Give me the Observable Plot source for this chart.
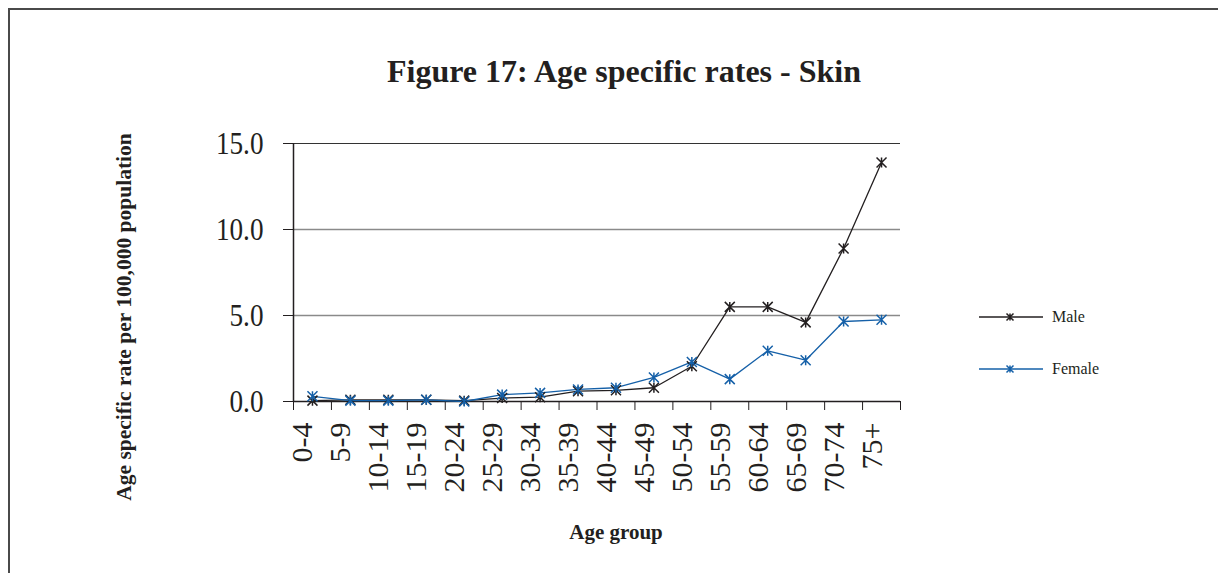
<!DOCTYPE html>
<html>
<head>
<meta charset="utf-8">
<script src="https://cdn.jsdelivr.net/npm/d3@7"></script>
<script src="https://cdn.jsdelivr.net/npm/@observablehq/plot@0.6"></script>
<style>
  html, body { margin: 0; padding: 0; background: #fff; overflow: hidden; }
  #wrap { position: relative; width: 1218px; height: 573px; overflow: hidden; font-family: "Liberation Serif", serif; color: #231f20; }
  #frame { position: absolute; left: 8px; top: 8px; width: 1400px; height: 800px; border: 2px solid #4a4a4a; box-sizing: border-box; }
  #title { position: absolute; left: 0; width: 1248px; top: 53px; text-align: center; font-weight: bold; font-size: 32px; }
  #chart { position: absolute; left: 0; top: 0; }
  #ylabel { position: absolute; left: 124px; top: 317px; transform: translate(-50%, -50%) rotate(-90deg); white-space: nowrap; font-weight: bold; font-size: 21.5px; }
  #xlabel { position: absolute; left: 616px; top: 532px; transform: translate(-50%, -50%); white-space: nowrap; font-weight: bold; font-size: 21px; }
  #legend { position: absolute; left: 978px; top: 300px; }
  .item { display: flex; align-items: center; height: 34px; margin-bottom: 18px; font-size: 16px; }
  .item svg { margin-right: 8px; }
</style>
</head>
<body>
<div id="wrap">
  <div id="frame"></div>
  <div id="title">Figure 17: Age specific rates - Skin</div>
  <div id="chart"></div>
  <div id="ylabel">Age specific rate per 100,000 population</div>
  <div id="xlabel">Age group</div>
  <div id="legend"></div>
</div>
<script>
const ageGroups = ["0-4","5-9","10-14","15-19","20-24","25-29","30-34","35-39","40-44","45-49","50-54","55-59","60-64","65-69","70-74","75+"];
const male   = [0.05, 0.1, 0.1, 0.1, 0.05, 0.2, 0.25, 0.6, 0.65, 0.8, 2.05, 5.5, 5.5, 4.6, 8.9, 13.9];
const female = [0.3, 0.05, 0.05, 0.1, 0.0, 0.4, 0.5, 0.7, 0.8, 1.4, 2.3, 1.3, 2.95, 2.4, 4.65, 4.75];
const seriesNames = ["Male", "Female"];
const seriesColors = ["#231f20", "#1560a8"];
const yTicks = [0, 5, 10, 15];

const data = ageGroups.flatMap((g, i) => [
  {g, i, v: male[i], s: "Male"},
  {g, i, v: female[i], s: "Female"}
]);

const star = {
  draw(ctx, size) {
    const r = Math.sqrt(size / Math.PI);
    ctx.moveTo(-r, -r); ctx.lineTo(r, r);
    ctx.moveTo(-r, r); ctx.lineTo(r, -r);
    ctx.moveTo(0, -r); ctx.lineTo(0, r);
  }
};

const chart = Plot.plot({
  width: 1218,
  height: 573,
  marginLeft: 293,
  marginRight: 318,
  marginTop: 143,
  marginBottom: 172,
  style: {fontFamily: "Liberation Serif", fontSize: "32px", color: "#231f20", background: "transparent", overflow: "visible"},
  x: {domain: [0, ageGroups.length], ticks: d3.range(ageGroups.length + 1), tickFormat: () => "", tickSize: 9, label: null},
  y: {domain: [0, 15], ticks: yTicks, tickFormat: d => d.toFixed(1), tickSize: 10, tickPadding: 20, label: null},
  color: {domain: seriesNames, range: seriesColors},
  marks: [
    Plot.ruleY([5, 10], {stroke: "#8a8a8a", strokeWidth: 1.6}),
    Plot.ruleY([15], {stroke: "#333", strokeWidth: 1.2}),
    Plot.ruleY([0], {stroke: "#231f20", strokeWidth: 1.5}),
    Plot.ruleX([0], {stroke: "#231f20", strokeWidth: 1.5}),
    Plot.line(data, {x: d => d.i + 0.5, y: "v", z: "s", stroke: "s", strokeWidth: 1.3}),
    Plot.dot(data, {x: d => d.i + 0.5, y: "v", stroke: "s", symbol: () => star, r: 5, strokeWidth: 1.5}),
    Plot.text(ageGroups, {x: (d, i) => i + 0.5, frameAnchor: "bottom", rotate: -90, textAnchor: "end", dy: 21, fontSize: 30, fill: "#231f20"})
  ]
});
document.getElementById("chart").appendChild(chart);

// condense the y tick labels slightly (the reference glyphs are narrow)
chart.querySelectorAll("text").forEach(t => {
  if (/^\d+\.\d$/.test(t.textContent)) {
    const len = t.getComputedTextLength();
    t.setAttribute("textLength", (len * 0.85).toFixed(1));
    t.setAttribute("lengthAdjust", "spacingAndGlyphs");
  }
});

// legend
const legend = document.getElementById("legend");
seriesNames.forEach((name, k) => {
  const item = document.createElement("div");
  item.className = "item";
  const svg = d3.create("svg").attr("width", 66).attr("height", 12);
  svg.append("line").attr("x1", 1).attr("x2", 65).attr("y1", 6).attr("y2", 6).attr("stroke", seriesColors[k]).attr("stroke-width", 1.4);
  svg.append("path").attr("transform", "translate(32,6)").attr("d", "M-3.5,-3.5L3.5,3.5M-3.5,3.5L3.5,-3.5M0,-3.5L0,3.5").attr("stroke", seriesColors[k]).attr("stroke-width", 1.5).attr("fill", "none");
  item.appendChild(svg.node());
  const t = document.createElement("span");
  t.textContent = name;
  item.appendChild(t);
  legend.appendChild(item);
});
</script>
</body>
</html>
